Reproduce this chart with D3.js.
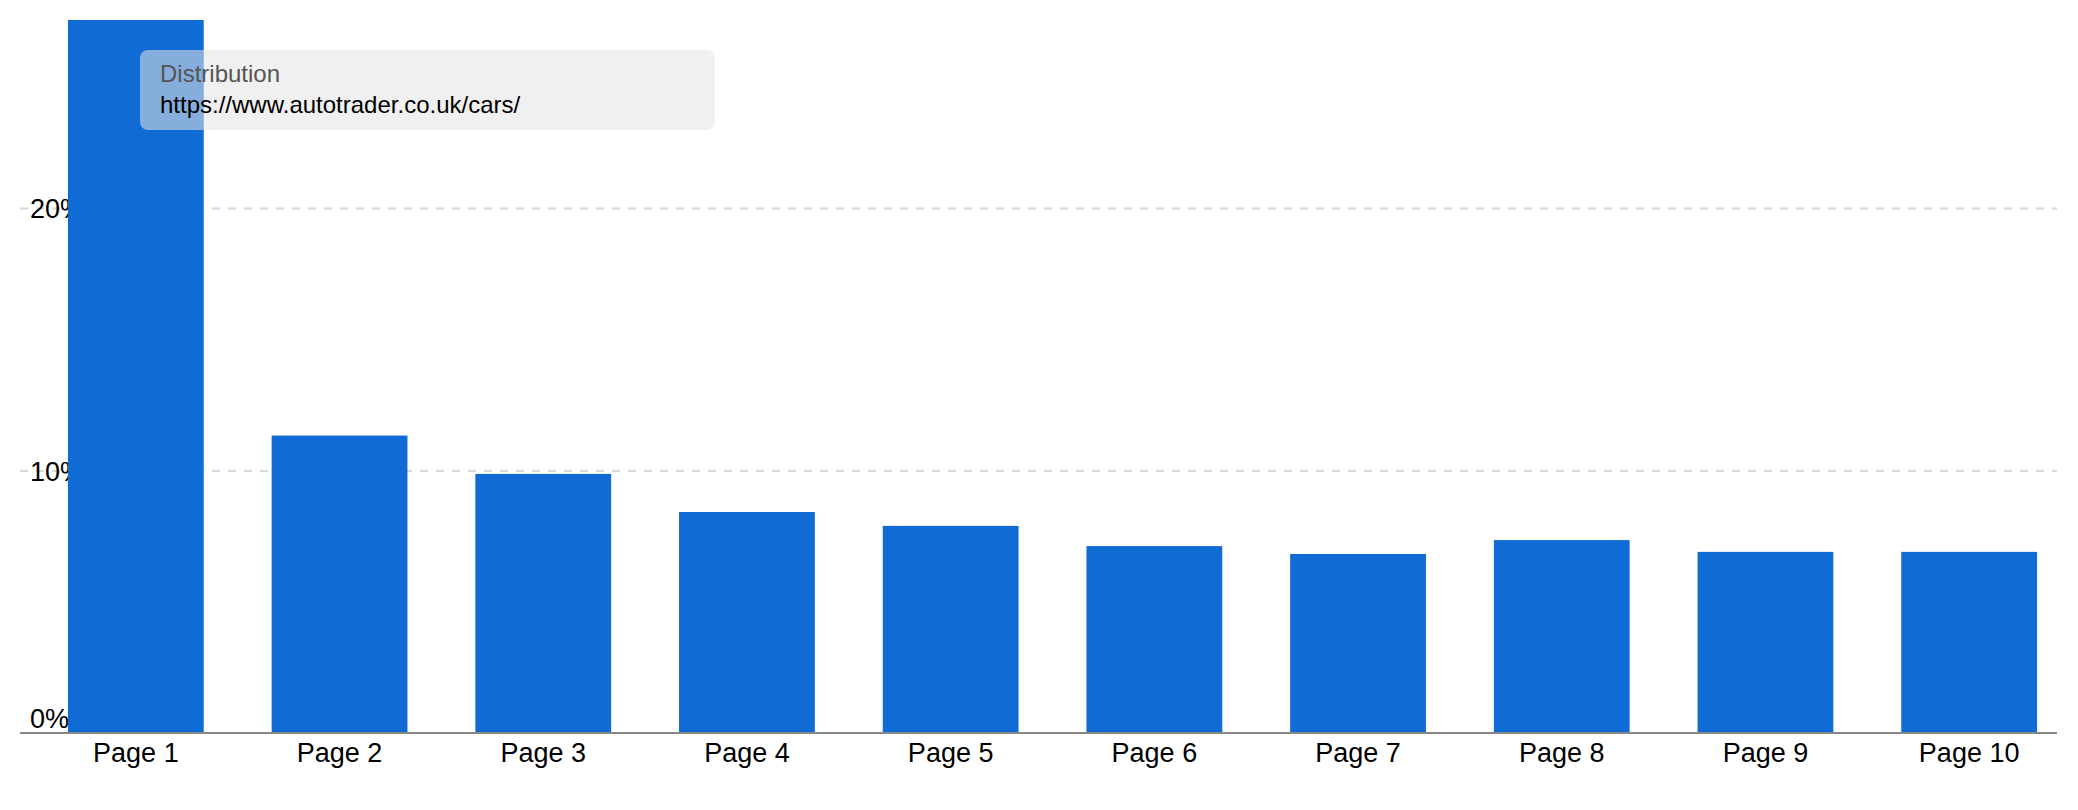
<!DOCTYPE html>
<html>
<head>
<meta charset="utf-8">
<script src="https://cdn.jsdelivr.net/npm/d3@7"></script>
<style>
  html, body { margin: 0; padding: 0; background: #fff; }
  svg { display: block; font-family: "Liberation Sans", Arial, Helvetica, sans-serif; }
</style>
</head>
<body>
<div id="chart"></div>
<script>
// data (percent of results per page)
const pages = ['Page 1', 'Page 2', 'Page 3', 'Page 4', 'Page 5',
               'Page 6', 'Page 7', 'Page 8', 'Page 9', 'Page 10'];
const shares = [27.2, 11.33, 9.87, 8.42, 7.89, 7.12, 6.82, 7.35, 6.9, 6.9];
const yTicks = [0, 10, 20];
const tipTitle = 'Distribution';
const tipUrl = 'https://www.autotrader.co.uk/cars/';

const width = 2078;
const height = 810;

// plot area
const plot = { left: 20, right: 2057, top: 20, bottom: 733 };

const svg = d3.select('#chart')
    .append('svg')
    .attr('width', width)
    .attr('height', height);

const x = d3.scaleBand()
    .domain(pages)
    .range([plot.left + 14, plot.right + 14])
    .paddingInner(1 / 3)
    .paddingOuter(1 / 6);

const y = d3.scaleLinear()
    .domain([0, 20])
    .range([plot.bottom, 208]);

// grid lines + y labels
const grid = svg.append('g')
    .attr('transform', `translate(${plot.left},0)`)
    .call(
        d3.axisRight(y)
            .tickValues(yTicks)
            .tickSize(plot.right - plot.left)
            .tickFormat(d => d + '%')
    );
grid.select('.domain').remove();
grid.selectAll('.tick line')
    .attr('stroke', '#d8d8d8')
    .attr('stroke-width', 2)
    .attr('stroke-dasharray', '8,8')
    .filter(d => d === 0).remove();
grid.selectAll('.tick text')
    .attr('x', 10)
    .attr('text-anchor', 'start')
    .attr('fill', '#000')
    .style('font-size', '27px')
    .attr('y', d => d === 0 ? -6 : 0)
    .attr('dy', d => d === 0 ? '0' : '0.36em');

// bars
svg.append('g')
    .selectAll('rect')
    .data(pages.map((p, i) => ({ page: p, value: shares[i] })))
    .join('rect')
    .attr('x', d => x(d.page))
    .attr('y', d => Math.max(plot.top, y(d.value)))
    .attr('width', x.bandwidth())
    .attr('height', d => plot.bottom - Math.max(plot.top, y(d.value)))
    .attr('fill', '#116bd4');

// x axis
const xAxis = svg.append('g')
    .attr('transform', `translate(0,${plot.bottom})`)
    .call(d3.axisBottom(x).tickSize(0));
xAxis.select('.domain').remove();
xAxis.selectAll('.tick text')
    .attr('y', 29)
    .attr('dy', '0')
    .attr('fill', '#000')
    .style('font-size', '27px');

svg.append('line')
    .attr('x1', plot.left)
    .attr('x2', plot.right)
    .attr('y1', plot.bottom)
    .attr('y2', plot.bottom)
    .attr('stroke', '#888')
    .attr('stroke-width', 2);

// series tooltip box
const tip = svg.append('g')
    .attr('transform', 'translate(140,50)');
tip.append('rect')
    .attr('width', 575)
    .attr('height', 80)
    .attr('rx', 8)
    .attr('fill', 'rgba(228,228,228,0.555)');
tip.append('text')
    .attr('x', 20)
    .attr('y', 32)
    .attr('fill', '#555')
    .style('font-size', '24px')
    .text(tipTitle);
tip.append('text')
    .attr('x', 20)
    .attr('y', 63)
    .attr('fill', '#000')
    .style('font-size', '24px')
    .text(tipUrl);
</script>
</body>
</html>
